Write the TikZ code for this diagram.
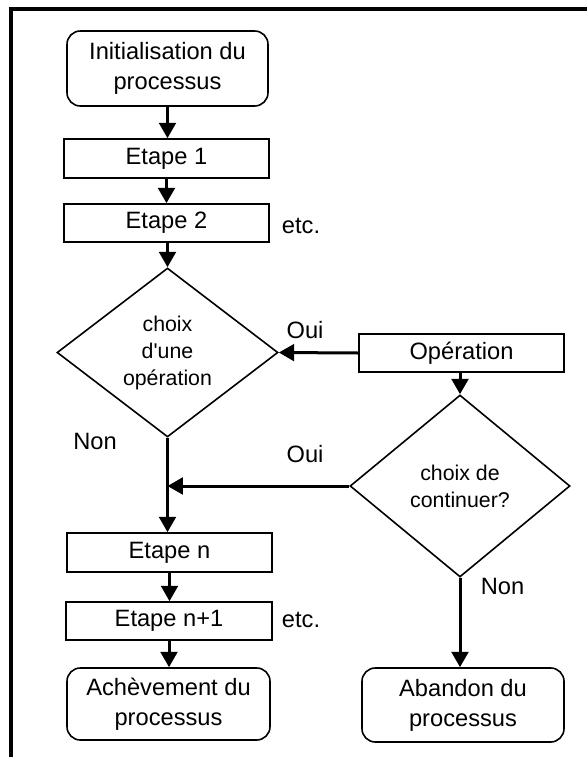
\documentclass[tikz,border=0pt]{standalone}
\usepackage{fontspec}
\setmainfont{Liberation Sans}
\usetikzlibrary{shapes.geometric,arrows.meta}

\tikzset{
  boxfont/.style={font=\fontsize{17.75}{22.5}\selectfont},
  diafont/.style={font=\fontsize{16}{20.25}\selectfont},
  stepbox/.style={draw, line width=1.2pt, rectangle, inner sep=0pt, align=center, boxfont},
  endbox/.style={stepbox, rounded corners=10pt},
  choice/.style={draw, line width=1.2pt, diamond, inner sep=0pt, align=center, diafont},
  flow/.style={line width=2.25pt, -{Triangle[length=11.5pt,width=12.5pt]}},
  lbl/.style={boxfont, anchor=base, inner sep=0pt},
  frame/.style={line width=3pt, line join=miter}
}

\begin{document}
\begin{tikzpicture}[x=0.75pt, y=-0.75pt]
\useasboundingbox (0,0) rectangle (587,757);

% frame along top and left edges
\draw[frame] (587,9) -- (11,9) -- (11,757);

% left column
\node[endbox, minimum width=150.75pt, minimum height=56.25pt] (init) at (167.5,68.5) {Initialisation du\\processus};
\node[stepbox, minimum width=153.75pt, minimum height=29.25pt] (e1) at (166.5,158.5) {Etape 1};
\node[stepbox, minimum width=153.75pt, minimum height=28.5pt] (e2) at (166.5,223) {Etape 2};
\node[choice, aspect=1.31, minimum width=165.75pt, minimum height=126.75pt] (d1) at (167.5,352.5) {choix\\d\textquotesingle une\\opération};
\node[stepbox, minimum width=153.75pt, minimum height=29.25pt] (en) at (169.5,552.5) {Etape n};
\node[stepbox, minimum width=154.5pt, minimum height=28.5pt] (en1) at (169,621) {Etape n+1};
\node[endbox, minimum width=152.25pt, minimum height=54pt] (ach) at (168.5,704) {Achèvement du\\processus};

% right column
\node[stepbox, minimum width=153.75pt, minimum height=28.5pt] (op) at (461.5,353) {Opération};
\node[choice, aspect=1.21, minimum width=165pt, minimum height=136.5pt] (d2) at (460,486) {choix de\\continuer?};
\node[endbox, minimum width=151.5pt, minimum height=55.5pt] (ab) at (463,705) {Abandon du\\processus};

% labels
\node[lbl] (etc1) at (301,233) {etc.};
\node[lbl] (etc2) at (301,627) {etc.};
\node[lbl] (oui1) at (305,338) {Oui};
\node[lbl] (non1) at (95,449) {Non};
\node[lbl] (oui2) at (305,462) {Oui};
\node[lbl] (non2) at (502.5,594) {Non};

% connectors
\coordinate (join) at (d1.south |- d2.west);
\draw[flow] (init.south) -- (init.south |- e1.north);
\draw[flow] (e1.south) -- (e1.south |- e2.north);
\draw[flow] (e2.south) -- (e2.south -| d1.north) -- (d1.north);
\draw[flow] (op.west) -- (d1.east);
\draw[flow] (op.south -| d2.north) -- (d2.north);
\draw[line width=2.25pt] (d1.south) -- (join);
\draw[flow] (join) -- (d1.south |- en.north);
\draw[flow] (d2.west) -- (join);
\draw[flow] (d2.south) -- (d2.south |- ab.north);
\draw[flow] (en.south) -- (en.south |- en1.north);
\draw[flow] (en1.south) -- (en1.south |- ach.north);
\end{tikzpicture}
\end{document}
